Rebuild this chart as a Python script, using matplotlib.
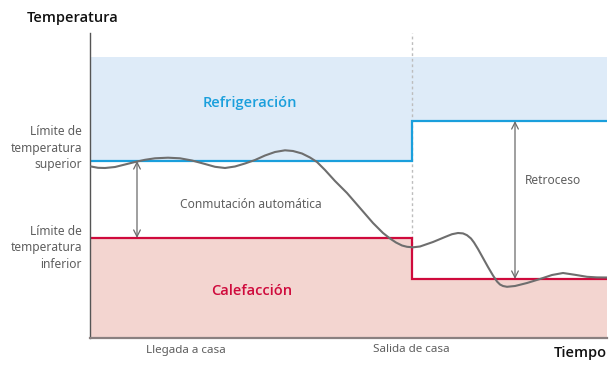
import numpy as np
import matplotlib
matplotlib.use("Agg")
import matplotlib.pyplot as plt

plt.rcParams['font.family'] = ['Noto Sans', 'DejaVu Sans']

# Time axis (arbitrary units) and temperature (arbitrary units)
x_min, x_max = 0, 517
y_min, y_max = 0, 305

# Switching time ("Salida de casa")
t_leave = 322

# Comfort limits: upper (cooling) and lower (heating) before and after leaving
upper_before, upper_after = 177, 217
lower_before, lower_after = 100, 59
cool_top = 281

# Measured room temperature curve
curve_t = [1, 8, 15, 25, 35, 45, 55, 65, 78, 90, 102, 115, 125, 135, 145, 155,
           165, 175, 185, 195, 203, 212, 220, 227, 235, 245, 257, 270, 283, 293,
           300, 306, 312, 317, 323, 330, 343, 355, 362, 368, 373, 377, 381, 384,
           388, 393, 398, 403, 407, 410, 413, 417, 425, 437, 450, 462, 473, 485,
           497, 507, 517]
curve_temp = [171.5, 170.2, 170, 171, 173.5, 176, 178.2, 179.7, 180.3, 179.7,
              177.5, 174, 171.2, 170, 171.5, 174.5, 178, 182.5, 186, 187.7,
              187, 184.5, 180.5, 176, 168, 157, 145, 130, 115, 105, 99.5, 95.5,
              92.5, 91.2, 90.7, 91.5, 96, 101, 103.8, 105, 104.6, 102.8, 99.5,
              95.5, 89, 80, 71, 62.5, 56.5, 53.5, 52, 51.2, 52, 55, 59, 63, 65,
              63.2, 61.2, 60.6, 60.5]

x_labels = ["Llegada a casa", "Salida de casa"]
x_label_pos = [96, 321]

fig = plt.figure(figsize=(6.12, 3.71), dpi=100)
ax = fig.add_axes([90/612, (371-338)/371, (607-90)/612, (338-33)/371])
ax.set_xlim(x_min, x_max)
ax.set_ylim(y_min, y_max)

blue_fill = '#deebf8'
red_fill = '#f3d5d0'
blue_line = '#1a9fdc'
red_line = '#cf0a3c'
gray = '#5f5f5f'
head_font = ['Open Sans', 'Noto Sans', 'DejaVu Sans']

step_x = [x_min, t_leave, t_leave, x_max]
up_y = [upper_before, upper_before, upper_after, upper_after]
lo_y = [lower_before, lower_before, lower_after, lower_after]

ax.fill_between(step_x, up_y, cool_top, color=blue_fill, lw=0)
ax.fill_between(step_x, 0, lo_y, color=red_fill, lw=0)
ax.plot(step_x, up_y, color=blue_line, lw=1.6, solid_joinstyle='miter')
ax.plot(step_x, lo_y, color=red_line, lw=1.6, solid_joinstyle='miter')

# dotted separator
ax.plot([t_leave, t_leave], [88, y_max], color='#bdbdbd', lw=1.0, ls=(0, (2, 2)), zorder=1)

ax.plot(curve_t, curve_temp, color='#6e6e6e', lw=1.5, zorder=4,
        solid_joinstyle='round', solid_capstyle='round')

# arrows
arrowprops = dict(arrowstyle='<->', color='#6a6a6a', lw=0.9, mutation_scale=12,
                  shrinkA=0, shrinkB=0)
ax.annotate('', xy=(47, upper_before), xytext=(47, lower_before), arrowprops=arrowprops)
ax.annotate('', xy=(425, upper_after), xytext=(425, lower_after), arrowprops=arrowprops)

# spines
for s in ['top', 'right']:
    ax.spines[s].set_visible(False)
ax.spines['left'].set_color('#555555')
ax.spines['bottom'].set_color('#8a8080')
ax.spines['left'].set_linewidth(1.0)
ax.spines['bottom'].set_linewidth(1.6)
ax.set_xticks([])
ax.set_yticks([])

# texts
ax.text(160, 235, 'Refrigeración', color=blue_line, fontsize=10.5, fontweight='semibold',
        family=head_font, ha='center', va='center')
ax.text(162, 47, 'Calefacción', color=red_line, fontsize=10.5, fontweight='semibold',
        family=head_font, ha='center', va='center')
ax.text(161, 134, 'Conmutación automática', color=gray, fontsize=8.6, ha='center', va='center')
ax.text(435, 158, 'Retroceso', color=gray, fontsize=8.6, ha='left', va='center')

fig.text(27/612, 1 - 18/371, 'Temperatura', fontsize=10.5, fontweight='semibold',
         family=head_font, color='#111111', ha='left', va='center')
fig.text(82/612, 1 - 148/371, 'Límite de\ntemperatura\nsuperior', fontsize=8.6, color=gray,
         ha='right', va='center', linespacing=1.35)
fig.text(82/612, 1 - 248/371, 'Límite de\ntemperatura\ninferior', fontsize=8.6, color=gray,
         ha='right', va='center', linespacing=1.35)
fig.text(607/612, 1 - 353/371, 'Tiempo', fontsize=10.5, fontweight='semibold',
         family=head_font, color='#111111', ha='right', va='center')
for lab, pos in zip(x_labels, x_label_pos):
    ax.text(pos, -12, lab, fontsize=8.4, color=gray, ha='center', va='center', clip_on=False)

fig.savefig('out.png', dpi=100)
